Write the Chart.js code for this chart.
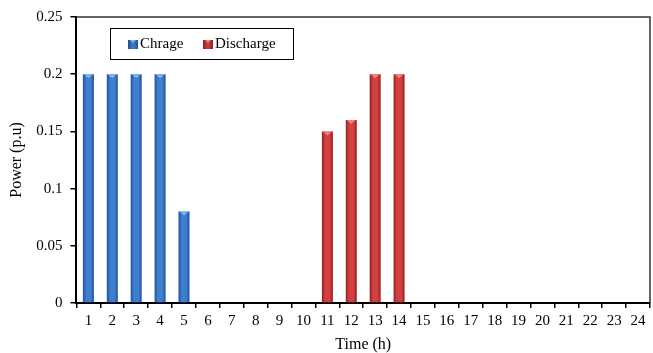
<!DOCTYPE html>
<html lang="en">
<head>
    <meta charset="UTF-8">
    <title>Charge / Discharge Power</title>
    <script src="https://cdn.jsdelivr.net/npm/chart.js"></script>
    <style>
        html, body { margin: 0; padding: 0; background: #fff; overflow: hidden; }
        canvas { display: block; }
    </style>
</head>
<body>
    <canvas id="powerChart" width="653" height="353"></canvas>

    <script>
        // Hours on the x axis
        const hours = ['1', '2', '3', '4', '5', '6', '7', '8', '9', '10', '11', '12',
                       '13', '14', '15', '16', '17', '18', '19', '20', '21', '22', '23', '24'];

        // Power per hour (p.u)
        const chargeValues = [0.2, 0.2, 0.2, 0.2, 0.08, 0, 0, 0, 0, 0, 0, 0,
                              0, 0, 0, 0, 0, 0, 0, 0, 0, 0, 0, 0];
        const dischargeValues = [0, 0, 0, 0, 0, 0, 0, 0, 0, 0, 0.15, 0.16,
                                 0.2, 0.2, 0, 0, 0, 0, 0, 0, 0, 0, 0, 0];

        const seriesLabels = ['Chrage', 'Discharge'];

        const serif = "'Liberation Serif', 'DejaVu Serif', serif";

        const colors = [
            { edge: '#21508f', mid: '#3f7fd2', cap: '#7db4ee' },
            { edge: '#8c2222', mid: '#d63f3f', cap: '#ee8080' }
        ];

        // shaded "cylinder" look: dark edges, lighter middle
        function barGradient(c) {
            return function (context) {
                const chart = context.chart;
                const xScale = chart.scales.x;
                if (!xScale || !chart.chartArea) return c.mid;
                const cx = xScale.getPixelForValue(context.dataIndex);
                const w = (xScale.width / hours.length) * 0.46;
                const g = chart.ctx.createLinearGradient(cx - w / 2, 0, cx + w / 2, 0);
                g.addColorStop(0, c.edge);
                g.addColorStop(0.3, c.mid);
                g.addColorStop(0.7, c.mid);
                g.addColorStop(1, c.edge);
                return g;
            };
        }

        // small light cap on top of each bar
        const capPlugin = {
            id: 'caps',
            afterDatasetsDraw(chart) {
                const ctx = chart.ctx;
                chart.data.datasets.forEach((ds, i) => {
                    chart.getDatasetMeta(i).data.forEach((bar, j) => {
                        if (!ds.data[j]) return;
                        const hw = bar.width / 2;
                        ctx.save();
                        ctx.fillStyle = colors[i].cap;
                        ctx.beginPath();
                        ctx.moveTo(bar.x - hw + 1, bar.y);
                        ctx.lineTo(bar.x + hw - 1, bar.y);
                        ctx.lineTo(bar.x, bar.y + 4);
                        ctx.closePath();
                        ctx.fill();
                        ctx.restore();
                    });
                });
            }
        };

        // frame around the plot area + legend box inside it
        const framePlugin = {
            id: 'frame',
            afterDraw(chart) {
                const { ctx, chartArea: a } = chart;
                ctx.save();
                ctx.strokeStyle = '#333';
                ctx.lineWidth = 1.5;
                ctx.beginPath();
                ctx.moveTo(a.left, a.top);
                ctx.lineTo(a.right, a.top);
                ctx.lineTo(a.right, a.bottom);
                ctx.stroke();

                // legend
                const bx = 110, by = 28, bw = 183, bh = 31;
                ctx.fillStyle = '#fff';
                ctx.fillRect(bx, by, bw, bh);
                ctx.strokeStyle = '#000';
                ctx.lineWidth = 1;
                ctx.strokeRect(bx + 0.5, by + 0.5, bw, bh);

                ctx.font = '15px ' + serif;
                ctx.textBaseline = 'middle';
                const items = [
                    { x: 128, text: seriesLabels[0], c: colors[0] },
                    { x: 203, text: seriesLabels[1], c: colors[1] }
                ];
                items.forEach(it => {
                    const g = ctx.createLinearGradient(it.x, 0, it.x + 10, 0);
                    g.addColorStop(0, it.c.edge);
                    g.addColorStop(0.5, it.c.mid);
                    g.addColorStop(1, it.c.edge);
                    ctx.fillStyle = g;
                    ctx.fillRect(it.x, by + 12, 10, 9);
                    ctx.fillStyle = it.c.cap;
                    ctx.beginPath();
                    ctx.moveTo(it.x + 2, by + 12);
                    ctx.lineTo(it.x + 8, by + 12);
                    ctx.lineTo(it.x + 5, by + 15);
                    ctx.closePath();
                    ctx.fill();
                    ctx.fillStyle = '#000';
                    ctx.fillText(it.text, it.x + 12, by + 16);
                });
                ctx.restore();
            }
        };

        const ctx = document.getElementById('powerChart').getContext('2d');
        const powerChart = new Chart(ctx, {
            type: 'bar',
            data: {
                labels: hours,
                datasets: [
                    {
                        label: seriesLabels[0],
                        data: chargeValues,
                        backgroundColor: barGradient(colors[0]),
                        borderWidth: 0,
                        categoryPercentage: 1,
                        barPercentage: 0.46
                    },
                    {
                        label: seriesLabels[1],
                        data: dischargeValues,
                        backgroundColor: barGradient(colors[1]),
                        borderWidth: 0,
                        categoryPercentage: 1,
                        barPercentage: 0.46
                    }
                ]
            },
            options: {
                responsive: false,
                animation: false,
                maintainAspectRatio: false,
                layout: { padding: { top: 12, right: 3, left: 4, bottom: 0 } },
                scales: {
                    x: {
                        stacked: true,
                        grid: {
                            drawOnChartArea: false,
                            color: '#000',
                            tickLength: 5,
                            lineWidth: 1.5
                        },
                        border: { color: '#000', width: 2 },
                        ticks: {
                            color: '#000',
                            font: { family: serif, size: 15 },
                            maxRotation: 0,
                            autoSkip: false,
                            padding: 4
                        },
                        title: {
                            display: true,
                            text: 'Time (h)',
                            color: '#000',
                            font: { family: serif, size: 16, lineHeight: 1 },
                            padding: { top: 3, bottom: 0 }
                        }
                    },
                    y: {
                        stacked: true,
                        min: 0,
                        max: 0.25,
                        grid: {
                            drawOnChartArea: false,
                            color: '#000',
                            tickLength: 6,
                            lineWidth: 1.5
                        },
                        border: { color: '#000', width: 2 },
                        ticks: {
                            stepSize: 0.05,
                            color: '#000',
                            font: { family: serif, size: 15 },
                            padding: 8,
                            callback: v => String(Math.round(v * 100) / 100)
                        },
                        title: {
                            display: true,
                            text: 'Power (p.u)',
                            color: '#000',
                            font: { family: serif, size: 16, lineHeight: 1.2 },
                            padding: { top: 3, bottom: 2 }
                        }
                    }
                },
                plugins: {
                    legend: { display: false },
                    tooltip: { enabled: false }
                }
            },
            plugins: [capPlugin, framePlugin]
        });
    </script>
</body>
</html>
